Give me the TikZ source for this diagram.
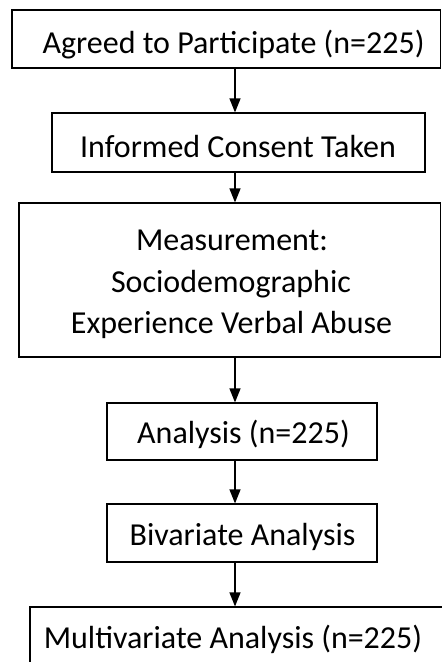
\documentclass[tikz,border=0pt]{standalone}
\usepackage{fontspec}
\setmainfont{Carlito}
\usetikzlibrary{arrows.meta}
\begin{document}
\begin{tikzpicture}[x=1pt,y=1pt,
  box/.style={draw=black, line width=1.2pt, rectangle, inner sep=0pt, fill=none},
  lbl/.style={inner sep=0pt, anchor=base, font=\fontsize{32}{38}\selectfont},
  arr/.style={line width=1.2pt, -{Triangle[width=11pt,length=14pt]}}]
\useasboundingbox (0,0) rectangle (442,-662);
\clip (0,0) rectangle (442,-662);
\fill[white] (0,0) rectangle (442,-662);
\coordinate (ax) at (235,0);
\node[box, minimum width=428.5pt, minimum height=58pt] (b1) at (226.25,-39) {};
\node[box, minimum width=373pt, minimum height=59pt] (b2) at (238.5,-142.5) {};
\node[box, minimum width=421.5pt, minimum height=154pt] (b3) at (229.75,-280) {};
\node[box, minimum width=270pt, minimum height=57pt] (b4) at (242,-431.5) {};
\node[box, minimum width=270pt, minimum height=58pt] (b5) at (242,-533) {};
\node[box, minimum width=440pt, minimum height=93pt] (b6) at (250,-653.5) {};
\node[lbl] (t1) at (233.5,-53) {Agreed to Participate (n=225)};
\node[lbl] (t2) at (238,-157) {Informed Consent Taken};
\node[lbl] (t3a) at (232,-250) {Measurement:};
\node[lbl] (t3b) at (231,-292) {Sociodemographic};
\node[lbl] (t3c) at (231.5,-333) {Experience Verbal Abuse};
\node[lbl] (t4) at (243.5,-443) {Analysis (n=225)};
\node[lbl] (t5) at (242.5,-545) {Bivariate Analysis};
\node[lbl] (t6) at (233,-648) {Multivariate Analysis (n=225)};
\draw[arr] (b1.south -| ax) -- (b2.north -| ax);
\draw[arr] (b2.south -| ax) -- (b3.north -| ax);
\draw[arr] (b3.south -| ax) -- (b4.north -| ax);
\draw[arr] (b4.south -| ax) -- (b5.north -| ax);
\draw[arr] (b5.south -| ax) -- (b6.north -| ax);
\end{tikzpicture}
\end{document}
